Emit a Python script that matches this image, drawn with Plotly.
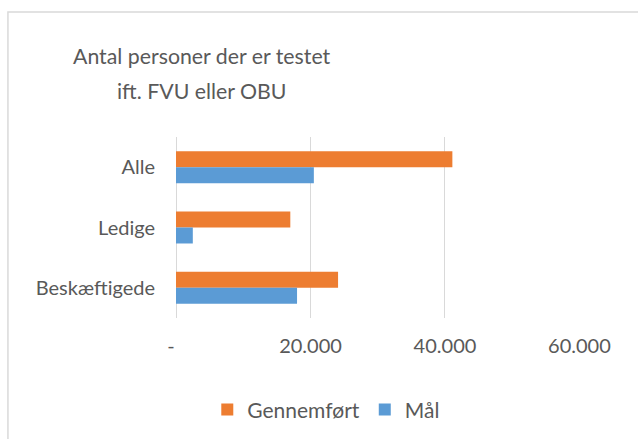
import plotly.graph_objects as go

categories = ["Alle", "Ledige", "Beskæftigede"]
gennemfoert = [41100, 17000, 24100]
maal = [20500, 2500, 18000]
tick_vals = [0, 20000, 40000, 60000]
tick_text = ["-\u00a0\u00a0", "20.000", "40.000", "60.000"]

FONT = "Lato"
TXT = "#595959"
GRID = "#D9D9D9"

fig = go.Figure()
fig.add_trace(go.Bar(y=categories, x=gennemfoert, orientation="h", name="Gennemført",
                     marker=dict(color="#ED7D31", line=dict(width=0))))
fig.add_trace(go.Bar(y=categories, x=maal, orientation="h", name="Mål",
                     marker=dict(color="#5B9BD5", line=dict(width=0))))

fig.update_layout(
    width=638, height=439,
    margin=dict(l=176, r=58, t=137, b=121, autoexpand=False),
    paper_bgcolor="white", plot_bgcolor="white",
    barmode="group", bargap=0.47, bargroupgap=0,
    font=dict(family=FONT, color=TXT, size=20),
    showlegend=True,
    legend=dict(orientation="h", x=0.372, y=-0.508, xanchor="center", yanchor="middle",
                traceorder="normal", font=dict(size=21, color=TXT, family=FONT),
                itemwidth=30, bgcolor="rgba(0,0,0,0)"),
)
fig.update_xaxes(range=[0, 60080], tickvals=tick_vals, ticktext=tick_text,
                 showgrid=True, gridcolor=GRID, gridwidth=1,
                 zeroline=True, zerolinecolor=GRID, zerolinewidth=1,
                 showline=False, ticks="outside", ticklen=10, tickcolor="rgba(0,0,0,0)",
                 tickfont=dict(size=20, color=TXT, family=FONT), fixedrange=True)
fig.update_yaxes(categoryorder="array", categoryarray=categories, autorange="reversed",
                 showgrid=False, zeroline=False, showline=False,
                 ticks="outside", ticklen=16, tickcolor="rgba(0,0,0,0)",
                 tickfont=dict(size=20, color=TXT, family=FONT), fixedrange=True)

title_lines = ["Antal personer der er testet", "ift. FVU eller OBU"]
for i, line in enumerate(title_lines):
    fig.add_annotation(text=line, xref="paper", yref="paper", x=0.064,
                       y=(318 - (56 + 35 * i)) / 181,
                       xanchor="center", yanchor="middle", showarrow=False,
                       font=dict(size=21.3, color=TXT, family=FONT))

fig.add_shape(type="rect", xref="paper", yref="paper",
              x0=-0.416, x1=1.3, y0=-1.0, y1=1.69,
              line=dict(color=GRID, width=1.5), fillcolor="rgba(0,0,0,0)", layer="below")

fig.write_html("out.html", config={"displayModeBar": False})
with open("out.html", encoding="utf-8") as f:
    html = f.read()
html = html.replace("<body>", '<body style="margin:0;padding:0">', 1)
with open("out.html", "w", encoding="utf-8") as f:
    f.write(html)
